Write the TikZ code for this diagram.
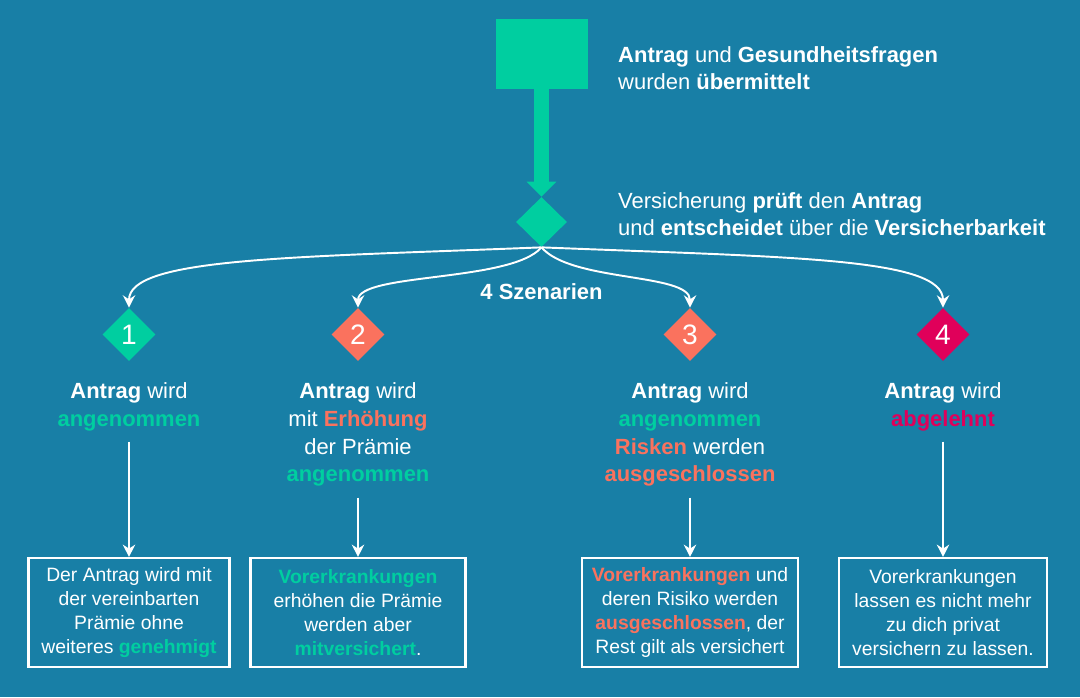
\documentclass[tikz,border=0pt]{standalone}
\usepackage{fontspec}
\setmainfont{Liberation Sans}
\usepackage{tikz}
\usetikzlibrary{shapes.geometric, arrows.meta, positioning}
\definecolor{bgblue}{RGB}{24,127,166}
\definecolor{mint}{RGB}{0,206,160}
\definecolor{salmon}{RGB}{250,114,94}
\definecolor{crimson}{RGB}{224,0,90}
\tikzstyle{numdiamond} = [diamond, minimum width=1.06cm, minimum height=1.06cm, inner sep=0pt, text=white, font=\fontsize{16}{16}\selectfont]
\tikzstyle{heading} = [align=center, text=white, inner sep=2pt, font=\fontsize{12.5}{15.9}\selectfont]
\tikzstyle{infotext} = [align=left, text=white, anchor=west, font=\fontsize{12.5}{15.3}\selectfont]
\tikzstyle{resultbox} = [rectangle, draw=white, line width=1.2pt, fill=bgblue, minimum height=2.18cm, align=center, text=white, font=\fontsize{11}{13.6}\selectfont]
\tikzstyle{thinarrow} = [white, line width=1.1pt, -{Stealth[length=7pt,width=7pt]}]
\newcommand{\gr}[1]{\textbf{\textcolor{mint}{#1}}}
\newcommand{\sa}[1]{\textbf{\textcolor{salmon}{#1}}}

\begin{document}
\begin{tikzpicture}
    \fill [bgblue] (0,0) rectangle (21.6,-13.94);
    \useasboundingbox (0,0) rectangle (21.6,-13.94);

    \node (start) [rectangle, fill=mint, minimum width=1.84cm, minimum height=1.4cm] at (10.83,-1.08) {};
    \node (check) [diamond, fill=mint, minimum width=1.02cm, minimum height=1.0cm, inner sep=0pt] at (10.83,-4.44) {};
    \draw [mint, line width=0.3cm, -{Triangle[width=0.58cm,length=0.3cm]}] (start.south) -- (check.north);

    \node (info1) [infotext] at (12.24,-1.37) {\textbf{Antrag} und \textbf{Gesundheitsfragen}\\wurden \textbf{übermittelt}};
    \node (info2) [infotext] at (12.24,-4.29) {Versicherung \textbf{prüft} den \textbf{Antrag}\\und \textbf{entscheidet} über die \textbf{Versicherbarkeit}};

    \node (s1) [numdiamond, fill=mint] at (2.58,-6.69) {1};
    \node (s2) [numdiamond, fill=salmon] at (7.16,-6.69) {2};
    \node (s3) [numdiamond, fill=salmon] at (13.8,-6.69) {3};
    \node (s4) [numdiamond, fill=crimson] at (18.86,-6.69) {4};
    \node (szen) [text=white, font=\bfseries\fontsize{12.5}{14}\selectfont] at (10.83,-5.84) {4 Szenarien};

    \draw [thinarrow] (check.south) .. controls +(-5,-0.2) and +(0,1.0) .. (s1.north);
    \draw [thinarrow] (check.south) .. controls +(-0.6,-0.7) and +(0,0.7) .. (s2.north);
    \draw [thinarrow] (check.south) .. controls +(0.6,-0.7) and +(0,0.7) .. (s3.north);
    \draw [thinarrow] (check.south) .. controls +(5,-0.2) and +(0,1.0) .. (s4.north);

    \node (h1) [heading, below=0.34cm of s1] {\textbf{Antrag} wird\\\gr{angenommen}};
    \node (h2) [heading, below=0.34cm of s2] {\textbf{Antrag} wird\\mit \sa{Erhöhung}\\der Prämie\\\gr{angenommen}};
    \node (h3) [heading, below=0.34cm of s3] {\textbf{Antrag} wird\\\gr{angenommen}\\\sa{Risken} werden\\\sa{ausgeschlossen}};
    \node (h4) [heading, below=0.34cm of s4] {\textbf{Antrag} wird\\\textbf{\textcolor{crimson}{abgelehnt}}};

    \node (b1) [resultbox, minimum width=4.02cm] at (2.58,-12.25) {Der Antrag wird mit\\der vereinbarten\\Prämie ohne\\weiteres \gr{genehmigt}};
    \node (b2) [resultbox, minimum width=4.3cm] at (7.16,-12.25) {\gr{Vorerkrankungen}\\erhöhen die Prämie\\werden aber\\\gr{mitversichert}.};
    \node (b3) [resultbox, minimum width=4.32cm] at (13.8,-12.25) {\sa{Vorerkrankungen} und\\deren Risiko werden\\\sa{ausgeschlossen}, der\\Rest gilt als versichert};
    \node (b4) [resultbox, minimum width=4.16cm] at (18.86,-12.25) {Vorerkrankungen\\lassen es nicht mehr\\zu dich privat\\versichern zu lassen.};

    \draw [thinarrow, shorten <=4pt] (h1) -- (b1);
    \draw [thinarrow, shorten <=4pt] (h2) -- (b2);
    \draw [thinarrow, shorten <=4pt] (h3) -- (b3);
    \draw [thinarrow, shorten <=4pt] (h4) -- (b4);
\end{tikzpicture}
\end{document}
